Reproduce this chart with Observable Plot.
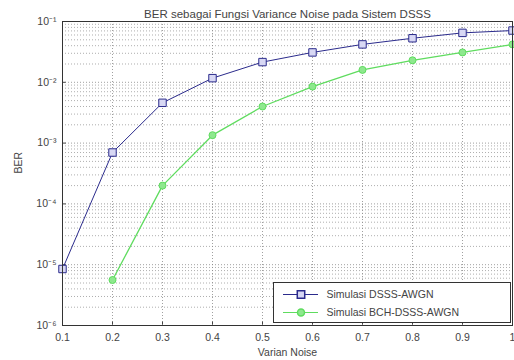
<!DOCTYPE html>
<html><head><meta charset="utf-8">
<script src="https://cdn.jsdelivr.net/npm/d3@7"></script>
<script src="https://cdn.jsdelivr.net/npm/@observablehq/plot@0.6"></script>
<style>
body{margin:0;background:#fff;font-family:"Liberation Sans",Arial,sans-serif;}
#wrap{position:relative;width:514px;height:360px;}
#legend{position:absolute;left:273px;top:282px;width:238px;height:41px;background:#fff;border:1px solid #333;box-sizing:border-box;font-size:10.5px;color:#333;}
</style></head>
<body><div id="wrap"><div id="chart"></div><div id="legend"></div></div>
<script>
const varian = [0.1,0.2,0.3,0.4,0.5,0.6,0.7,0.8,0.9,1.0];
const berDSSS = [8.5e-6,7e-4,4.6e-3,1.17e-2,2.15e-2,3.1e-2,4.2e-2,5.3e-2,6.5e-2,7.1e-2];
const varianBCH = [0.2,0.3,0.4,0.5,0.6,0.7,0.8,0.9,1.0];
const berBCH = [5.6e-6,2.0e-4,1.35e-3,4.0e-3,8.5e-3,1.6e-2,2.3e-2,3.1e-2,4.2e-2];
const xTicks = [0.1,0.2,0.3,0.4,0.5,0.6,0.7,0.8,0.9,1];
const yTicks = [1e-6,1e-5,1e-4,1e-3,1e-2,1e-1];
const seriesNames = ["Simulasi DSSS-AWGN","Simulasi BCH-DSSS-AWGN"];
const title = "BER sebagai Fungsi Variance Noise pada Sistem DSSS";
const xLabel = "Varian Noise", yLabel = "BER";

const blue = "#2b2b8c", green = "#5fdc5f";
const sup = {"-":"\u207B","0":"\u2070","1":"\u00B9","2":"\u00B2","3":"\u00B3","4":"\u2074","5":"\u2075","6":"\u2076"};
const fmtY = d => "10" + String(Math.round(Math.log10(d))).split("").map(c=>sup[c]).join("");

const minor = [];
for (let e=-6;e<-1;e++) for (let k=2;k<=9;k++) minor.push(k*Math.pow(10,e));
const dsss = varian.map((x,i)=>({x,y:berDSSS[i]}));
const bch = varianBCH.map((x,i)=>({x,y:berBCH[i]}));

const chart = Plot.plot({
  width:514, height:360,
  marginTop:21, marginLeft:62, marginRight:2, marginBottom:35,
  style:{fontSize:"10.5px", fontFamily:"Liberation Sans, Arial, sans-serif", color:"#444", background:"#fff"},
  x:{domain:[0.1,1], ticks:xTicks, tickFormat:d=>d===1?"1":String(d), tickSize:-4, tickPadding:12, label:null},
  y:{type:"log", domain:[1e-6,1e-1], ticks:yTicks, tickFormat:fmtY, tickSize:-4, tickPadding:10, label:null},
  marks:[
    Plot.ruleY(minor,{stroke:"#999",strokeDasharray:"1,2",strokeWidth:0.8}),
    Plot.ruleY(yTicks,{stroke:"#888",strokeDasharray:"1,2",strokeWidth:0.8}),
    Plot.ruleX(xTicks,{stroke:"#888",strokeDasharray:"1,2",strokeWidth:0.8}),
    Plot.line(dsss,{x:"x",y:"y",stroke:blue,strokeWidth:1}),
    Plot.dot(dsss,{x:"x",y:"y",symbol:"square",r:4.2,stroke:blue,fill:"#d8d8f4",strokeWidth:1}),
    Plot.line(bch,{x:"x",y:"y",stroke:green,strokeWidth:1.3}),
    Plot.dot(bch,{x:"x",y:"y",symbol:"circle",r:3.5,stroke:green,fill:"#8ee88e",strokeWidth:1}),
    Plot.frame({stroke:"#333"}),
    Plot.text([title],{frameAnchor:"top",dy:-12,fontSize:11.5,fill:"#444"}),
    Plot.text([xLabel],{frameAnchor:"bottom",dy:30,fontSize:10.5,fill:"#444"}),
    Plot.text([yLabel],{frameAnchor:"left",dx:-44,rotate:-90,fontSize:10.5,fill:"#444"})
  ]
});
document.getElementById("chart").appendChild(chart);

const lg = Plot.plot({
  width:236, height:39, margin:0,
  x:{domain:[0,236],axis:null}, y:{domain:[0,39],axis:null,reverse:true},
  style:{fontSize:"10.5px", fontFamily:"Liberation Sans, Arial, sans-serif", background:"transparent"},
  marks:[
    Plot.ruleY([0,1],{y:i=>[11,29][i],x1:9,x2:44,stroke:i=>[blue,green][i],strokeWidth:1.2}),
    Plot.dot([0],{x:26.5,y:11,symbol:"square",r:4.2,stroke:blue,fill:"#d8d8f4"}),
    Plot.dot([0],{x:26.5,y:29,symbol:"circle",r:3.5,stroke:green,fill:"#8ee88e"}),
    Plot.text(seriesNames,{x:52,y:(d,i)=>[11,29][i],textAnchor:"start",fill:"#444"})
  ]
});
document.getElementById("legend").appendChild(lg);
</script></body></html>
